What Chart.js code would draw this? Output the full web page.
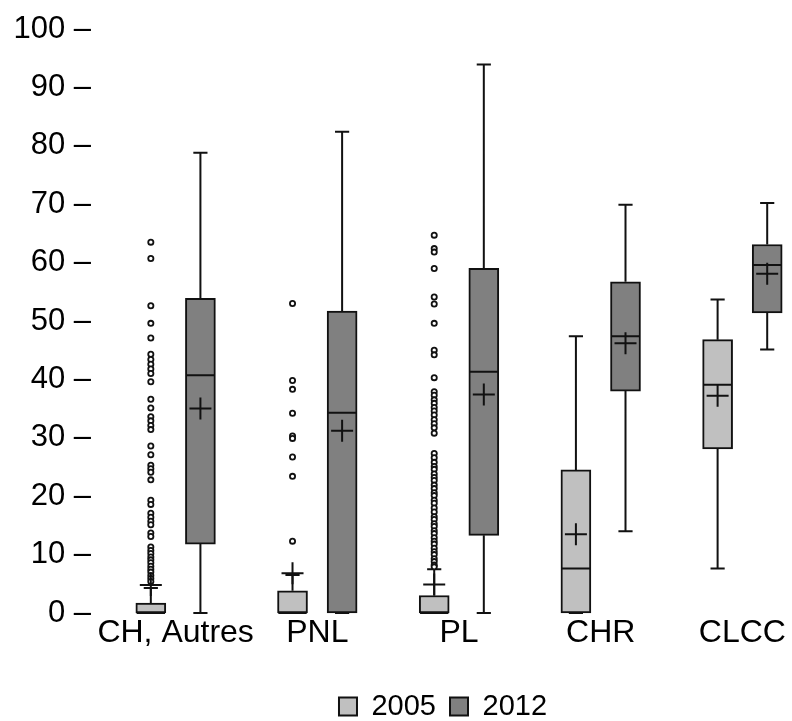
<!DOCTYPE html>
<html><head><meta charset="utf-8">
<script src="https://cdn.jsdelivr.net/npm/chart.js@4/dist/chart.umd.min.js"></script>
<style>html,body{margin:0;padding:0;background:#fff}canvas{display:block}</style>
</head><body>
<canvas id="c" width="792" height="721"></canvas>
<script>
// ---------- data ----------
const categories = ['CH, Autres', 'PNL', 'PL', 'CHR', 'CLCC'];
const years = ['2005', '2012'];
const yTickValues = [0, 10, 20, 30, 40, 50, 60, 70, 80, 90, 100];

const whiskerLow2005  = [0, 0, 0, 0, 7.6];
const q1_2005         = [0, 0, 0, 0, 28.1];
const median2005      = [0, 0, 0, 7.6, 39.1];
const q3_2005         = [1.7, 3.8, 3.0, 24.5, 46.8];
const whiskerHigh2005 = [4.3, 6.5, 7.5, 47.4, 53.7];
const mean2005        = [4.8, 6.8, 4.9, 13.5, 37.2];

const whiskerLow2012  = [0, 0, 0, 14.0, 45.1];
const q1_2012         = [11.8, 0, 13.3, 38.0, 51.4];
const median2012      = [40.7, 34.3, 41.3, 47.4, 59.6];
const q3_2012         = [53.9, 51.7, 59.0, 56.7, 63.1];
const whiskerHigh2012 = [78.8, 82.4, 93.9, 69.9, 70.2];
const mean2012        = [35.0, 31.2, 37.4, 46.2, 58.1];

const outliersCH2005  = [63.5, 60.7, 52.6, 49.6, 47.1, 44.3, 43.4, 42.6, 41.8, 41.0, 39.6, 36.6, 35.1,
                         33.6, 32.9, 32.1, 31.4, 28.6, 27.1, 25.3, 24.7, 24.1, 22.8, 19.3, 18.6, 17.1,
                         16.4, 15.7, 15.1, 13.7, 13.1, 11.3, 10.7, 10.2, 9.6, 9.1, 8.6, 8.0, 7.5, 7.0,
                         6.4, 5.9, 5.4];
const outliersPNL2005 = [53.0, 39.8, 38.3, 34.2, 30.3, 29.9, 26.7, 23.4, 12.3];
const outliersPL2005  = [64.7, 62.4, 61.8, 59.0, 54.1, 52.9, 49.6, 45.0, 44.2, 40.3, 37.9, 37.3, 36.5,
                         35.9, 35.2, 34.6, 33.9, 33.1, 32.4, 31.7, 30.8, 27.3, 26.6, 25.8, 25.1, 24.6,
                         23.8, 23.2, 22.7, 21.9, 21.3, 20.6, 20.1, 19.3, 18.8, 18.0, 17.3, 16.5, 16.0,
                         15.3, 14.8, 14.1, 13.6, 12.9, 12.3, 11.8, 11.1, 10.5, 10.0, 9.3, 8.8, 8.2, 7.9];
const outliers2005 = [outliersCH2005, outliersPNL2005, outliersPL2005, [], []];
const outliers2012 = [[], [], [], [], []];

// ---------- layout constants ----------
const OFF = 0.175;     // half distance between the two boxes of a group (axis units)
const CAP = 0.05;      // half width of whisker caps
const MED = 0.1;       // half width of median line

function segments(sign, wl, q1, med, q3, wh) {
  const out = [];
  categories.forEach((c, i) => {
    const x = i + 1 + sign * OFF;
    out.push({x: x, y: wl[i]}, {x: x, y: q1[i]}, {x: x, y: null});
    out.push({x: x, y: q3[i]}, {x: x, y: wh[i]}, {x: x, y: null});
    out.push({x: x - CAP, y: wl[i]}, {x: x + CAP, y: wl[i]}, {x: x, y: null});
    out.push({x: x - CAP, y: wh[i]}, {x: x + CAP, y: wh[i]}, {x: x, y: null});
    out.push({x: x - MED, y: med[i]}, {x: x + MED, y: med[i]}, {x: x, y: null});
  });
  return out;
}

const boxes2005 = categories.map((c, i) => ({x: i + 1 - OFF, y: [q1_2005[i], q3_2005[i]]}));
const boxes2012 = categories.map((c, i) => ({x: i + 1 + OFF, y: [q1_2012[i], q3_2012[i]]}));
const means = categories.map((c, i) => ({x: i + 1 - OFF, y: mean2005[i]}))
  .concat(categories.map((c, i) => ({x: i + 1 + OFF, y: mean2012[i]})));
const outlierPts = outliers2005.flatMap((arr, i) => arr.map(v => ({x: i + 1 - OFF, y: v})))
  .concat(outliers2012.flatMap((arr, i) => arr.map(v => ({x: i + 1 + OFF, y: v}))));

const FONT = "'Liberation Sans', Arial, sans-serif";

new Chart(document.getElementById('c'), {
  type: 'bar',
  data: {
    datasets: [
      {type: 'bar', label: years[0], data: boxes2005, backgroundColor: '#c0c0c0', borderColor: '#111',
       borderWidth: 2, borderSkipped: false, barThickness: 30, grouped: false, order: 3, clip: false},
      {type: 'bar', label: years[1], data: boxes2012, backgroundColor: '#808080', borderColor: '#111',
       borderWidth: 2, borderSkipped: false, barThickness: 30, grouped: false, order: 3, clip: false},
      {type: 'line', label: 'w2005', data: segments(-1, whiskerLow2005, q1_2005, median2005, q3_2005, whiskerHigh2005),
       borderColor: '#111', borderWidth: 2, pointRadius: 0, spanGaps: false, fill: false, tension: 0, order: 1, clip: false},
      {type: 'line', label: 'w2012', data: segments(1, whiskerLow2012, q1_2012, median2012, q3_2012, whiskerHigh2012),
       borderColor: '#111', borderWidth: 2, pointRadius: 0, spanGaps: false, fill: false, tension: 0, order: 1, clip: false},
      {type: 'line', label: 'mean', data: means, showLine: false, pointStyle: 'cross', pointRadius: 11,
       pointBorderWidth: 2, pointBorderColor: '#111', borderColor: '#111', order: 0, clip: false},
      {type: 'line', label: 'outliers', data: outlierPts, showLine: false, pointStyle: 'circle', pointRadius: 2.6,
       pointBorderWidth: 1.8, pointBorderColor: '#111', pointBackgroundColor: '#fff', borderColor: '#111', order: 0, clip: false}
    ]
  },
  options: {
    responsive: false,
    animation: false,
    events: [],
    layout: {autoPadding: false, padding: {left: 14, top: 29, right: 0, bottom: -10}},
    plugins: {
      tooltip: {enabled: false},
      legend: {
        position: 'bottom',
        fullSize: false,
        labels: {
          filter: item => item.datasetIndex < 2,
          boxWidth: 18, boxHeight: 18, color: '#000', padding: 14,
          font: {family: FONT, size: 29}
        }
      }
    },
    scales: {
      x: {
        type: 'linear', min: 0.424, max: 5.35, offset: false,
        afterBuildTicks: axis => { axis.ticks = categories.map((c, i) => ({value: i + 1})); },
        afterFit: axis => { axis.paddingLeft = 0; axis.paddingRight = 0; axis.height = 65; },
        ticks: {callback: v => categories[v - 1], color: '#000', font: {family: FONT, size: 32},
                maxRotation: 0, autoSkip: false, padding: 1},
        grid: {display: false, drawTicks: false, tickLength: 0}, border: {display: false}
      },
      y: {
        type: 'linear', min: 0, max: 100,
        afterBuildTicks: axis => { axis.ticks = yTickValues.map(v => ({value: v})); },
        afterFit: axis => { axis.width = 80; },
        ticks: {callback: v => v + ' \u2013', color: '#000', font: {family: FONT, size: 31}, padding: 3},
        grid: {display: false, drawTicks: false, tickLength: 0}, border: {display: false}
      }
    }
  }
});
</script>
</body></html>
